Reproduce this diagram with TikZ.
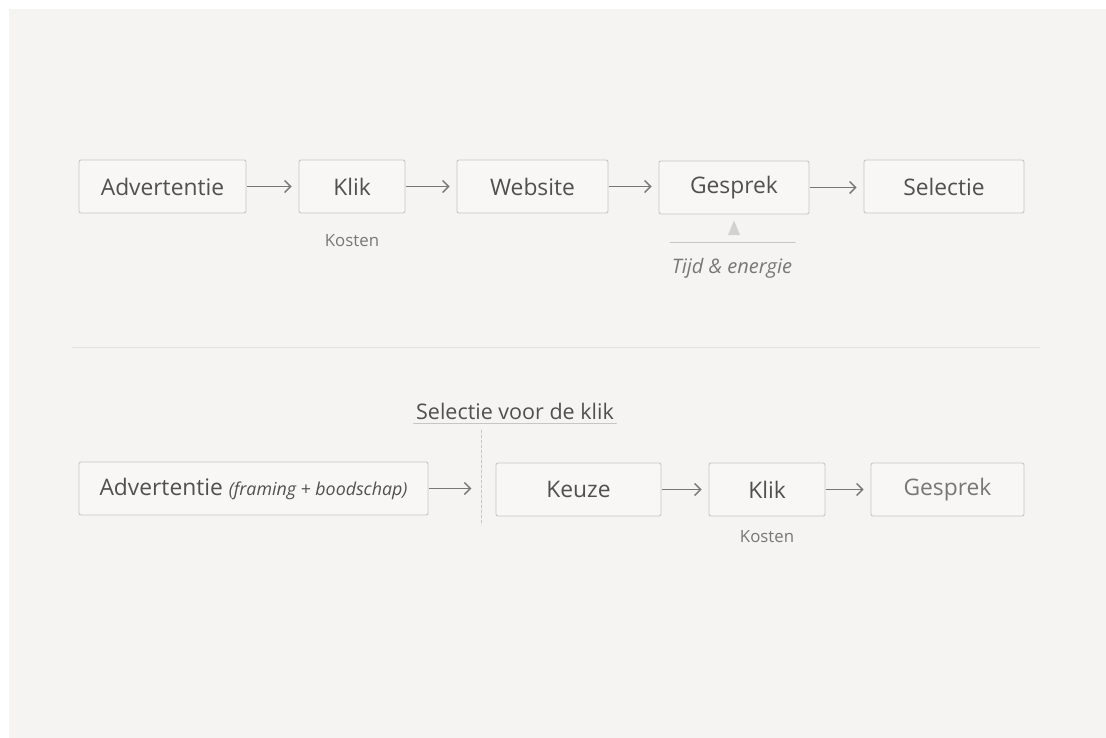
\documentclass[tikz,border=0pt]{standalone}
\usepackage{fontspec}
\setmainfont{Open Sans}
\usetikzlibrary{arrows.meta,shapes.geometric}
\definecolor{paper}{HTML}{F5F4F2}
\definecolor{ink}{HTML}{505050}
\definecolor{soft}{HTML}{777777}
\definecolor{rim}{HTML}{C6C6C6}
\definecolor{boxfill}{HTML}{F8F7F5}
\tikzset{
  stapbox/.style={draw=rim, fill=boxfill, rounded corners=2pt, line width=0.9pt,
    minimum height=53pt, inner sep=0pt, text=ink, font=\fontsize{22.8}{27}\selectfont},
  stappijl/.style={->, draw=soft, line width=1.4pt, shorten <=1pt, shorten >=7pt},
  notitie/.style={text=soft, font=\fontsize{16.8}{20}\selectfont},
}
\begin{document}
\begin{tikzpicture}[x=1pt, y=-1pt, >={Straight Barb[length=6pt,width=12pt]}, line cap=round]
  \useasboundingbox (0,0) rectangle (1106,738);
  \fill[white] (0,0) rectangle (1106,738);
  \fill[paper] (9,9) rectangle (1106,738);
  % huidige route
  \node[stapbox, minimum width=167pt] (adv1) at (162.5,186.5) {Advertentie};
  \node[stapbox, minimum width=106pt] (klik1) at (352,186.5) {Klik};
  \node[stapbox, minimum width=151pt] (web) at (532.5,186.5) {Website};
  \node[stapbox, minimum width=150pt] (gesp1) at (734,187.5) {Gesprek};
  \node[stapbox, minimum width=160pt] (sel) at (944,186.5) {Selectie};
  \foreach \p/\q in {adv1/klik1,klik1/web,web/gesp1,gesp1/sel}{
    \draw[stappijl] (\p.east) -- (\p.east -| \q.west);}
  \node[notitie] (kost1) at (352,241) {Kosten};
  \node[fill=rim!80, draw=none, isosceles triangle, shape border rotate=90, inner sep=0pt,
    minimum height=9pt, minimum width=12pt] (pijl) at (734,231) {};
  \coordinate (lijnL) at (670,243);
  \coordinate (lijnR) at (795,243);
  \draw[rim, line width=1pt] (lijnL) -- (lijnR);
  \node[notitie, font=\fontsize{20}{24}\selectfont\itshape] (tijd) at (732,268) {Tijd \& energie};
  % scheiding
  \coordinate (sepL) at (72,347);
  \coordinate (sepR) at (1040,347);
  \draw[rim!50, line width=0.8pt] (sepL) -- (sepR);
  % nieuwe route
  \node[text=ink, font=\fontsize{21.5}{26}\selectfont] (kop) at (515,411) {Selectie voor de klik};
  \draw[rim, line width=0.9pt] (kop.south west) ++(1,1) -- ([shift={(-1,1)}]kop.south east);
  \coordinate (knipA) at (481,430);
  \coordinate (knipB) at (481,525);
  \draw[rim, dashed, line width=0.8pt, dash pattern=on 3pt off 2pt] (knipA) -- (knipB);
  \node[stapbox, minimum width=349pt] (adv2) at (253.5,488.5)
    {Advertentie {\fontsize{17.8}{21}\selectfont\itshape(framing + boodschap)}};
  \node[stapbox, minimum width=165pt] (keuze) at (578.5,489.5) {Keuze};
  \node[stapbox, minimum width=116pt] (klik2) at (767,489.5) {Klik};
  \node[stapbox, minimum width=153pt, text=soft] (gesp2) at (947.5,489.5) {Gesprek};
  \draw[stappijl] (adv2.east) -- ++(50,0);
  \foreach \p/\q in {keuze/klik2,klik2/gesp2}{
    \draw[stappijl] (\p.east) -- (\p.east -| \q.west);}
  \node[notitie] (kost2) at (767,537) {Kosten};
\end{tikzpicture}
\end{document}
